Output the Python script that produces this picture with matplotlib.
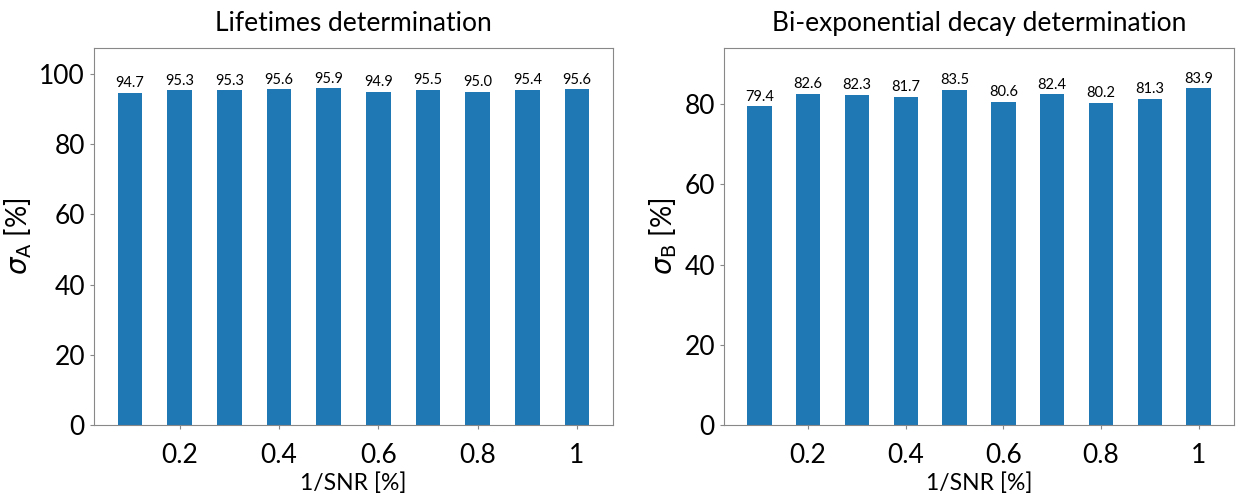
import matplotlib
matplotlib.use("Agg")
import matplotlib.pyplot as plt

plt.rcParams['font.family'] = ['Lato', 'DejaVu Sans']

# 1/SNR values and accuracies
snr_inv = [0.1, 0.2, 0.3, 0.4, 0.5, 0.6, 0.7, 0.8, 0.9, 1.0]
sigma_a = [94.7, 95.3, 95.3, 95.6, 95.9, 94.9, 95.5, 95.0, 95.4, 95.6]
sigma_b = [79.4, 82.6, 82.3, 81.7, 83.5, 80.6, 82.4, 80.2, 81.3, 83.9]
xtick_vals = [0.2, 0.4, 0.6, 0.8, 1.0]
xtick_labels = ['0.2', '0.4', '0.6', '0.8', '1']

fig = plt.figure(figsize=(12.41, 4.94), dpi=100)
ax1 = fig.add_axes([94/1241, 1-425/494, (613-94)/1241, (425-48)/494])
ax2 = fig.add_axes([724/1241, 1-425/494, (1234-724)/1241, (425-48)/494])

panels = [
    (ax1, sigma_a, 'Lifetimes determination', r'$\sigma_{\mathrm{A}}$ [%]'),
    (ax2, sigma_b, 'Bi-exponential decay determination', r'$\sigma_{\mathrm{B}}$ [%]'),
]

for ax, vals, title, ylab in panels:
    bars = ax.bar(snr_inv, vals, width=0.05, color='#1f77b4')
    ax.bar_label(bars, labels=['%.1f' % v for v in vals], fontsize=10.5, padding=2)
    ax.set_ylim(0, max(vals) * 1.12)
    ax.set_xticks(xtick_vals)
    ax.set_xticklabels(xtick_labels)
    ax.set_yticks(range(0, int(max(vals) * 1.12) + 1, 20))
    ax.tick_params(axis='both', labelsize=19, color='#888888', length=3)
    ax.tick_params(axis='x', pad=10)
    ax.set_title(title, fontsize=19, pad=12)
    ax.set_xlabel('1/SNR [%]', fontsize=16.5, labelpad=3)
    ax.set_ylabel(ylab, fontsize=20)
    for sp in ax.spines.values():
        sp.set_color('#888888')

fig.savefig('out.png', dpi=100)
